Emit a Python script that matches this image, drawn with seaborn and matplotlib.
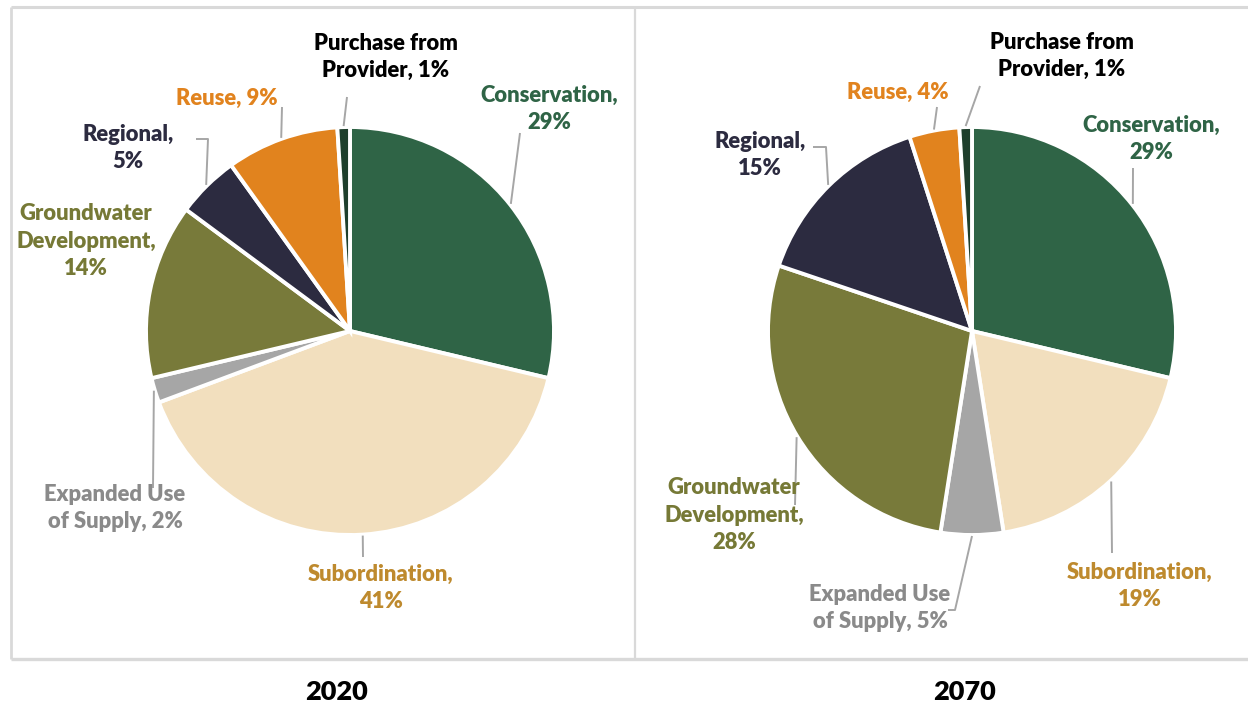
import numpy as np
import matplotlib
matplotlib.use("Agg")
import matplotlib.pyplot as plt
import seaborn as sns

# ---- data -------------------------------------------------------------
categories = ["Conservation", "Subordination", "Expanded Use of Supply",
              "Groundwater Development", "Regional", "Reuse",
              "Purchase from Provider"]
share_2020 = [29, 41, 2, 14, 5, 9, 1]
share_2070 = [29, 19, 5, 28, 15, 4, 1]
years = ["2020", "2070"]

label_text = {
    "Conservation": "Conservation,\n{}%",
    "Subordination": "Subordination,\n{}%",
    "Expanded Use of Supply": "Expanded Use\nof Supply, {}%",
    "Groundwater Development": "Groundwater\nDevelopment,\n{}%",
    "Regional": "Regional,\n{}%",
    "Reuse": "Reuse, {}%",
    "Purchase from Provider": "Purchase from\nProvider, {}%",
}

# ---- styling ----------------------------------------------------------
sns.set_theme(style="white")
plt.rcParams["font.family"] = ["Lato", "DejaVu Sans"]

fill_colors = sns.color_palette(["#2F6446", "#F2DFBE", "#A6A6A6", "#787A3A",
                                 "#2C2B40", "#E1831E", "#1E3F2C"])
text_colors = ["#2F6446", "#BE8A2E", "#8A8A8A", "#767936",
               "#2C2B40", "#E1831E", "#000000"]
leader_color = "#A6A6A6"
frame_color = "#D9D9D9"

W, H = 1248, 706
fig = plt.figure(figsize=(W / 100, H / 100), dpi=100)
ax = fig.add_axes([0, 0, 1, 1])

# pixel-space layout (y grows downward)
panels = [
    dict(center=(350, 331), radius=204, values=share_2020, year_x=337,
         labels={
             "Conservation": dict(pos=(549, 109), path=[(520, 133)]),
             "Subordination": dict(pos=(381, 588), path=[(363, 557)]),
             "Expanded Use of Supply": dict(pos=(115, 508), path=[(153, 488)]),
             "Groundwater Development": dict(pos=(86, 241), path=None),
             "Regional": dict(pos=(128, 148), path=[(208, 139), (196, 139)]),
             "Reuse": dict(pos=(227, 98), path=[(282, 107)]),
             "Purchase from Provider": dict(pos=(386, 57), path=[(347, 97)]),
         }),
    dict(center=(972, 331), radius=204, values=share_2070, year_x=965,
         labels={
             "Conservation": dict(pos=(1151, 139), path=[(1133, 168)]),
             "Subordination": dict(pos=(1140, 586), path=[(1112, 553)]),
             "Expanded Use of Supply": dict(pos=(880, 608), path=[(955, 610), (948, 610)]),
             "Groundwater Development": dict(pos=(734, 515), path=[(795, 505)]),
             "Regional": dict(pos=(760, 155), path=[(826, 147), (813, 147)]),
             "Reuse": dict(pos=(898, 92), path=[(937, 107)]),
             "Purchase from Provider": dict(pos=(1062, 56), path=[(980, 86)]),
         }),
]

for p in panels:
    cx, cy = p["center"]
    r = p["radius"]
    vals = np.asarray(p["values"], dtype=float)
    # y axis is inverted, so counterclock=True renders clockwise from the top
    ax.pie(vals, colors=fill_colors, startangle=-90, counterclock=True,
           center=(cx, cy), radius=r, frame=True,
           wedgeprops=dict(edgecolor="white", linewidth=2.8))

    frac = vals / vals.sum()
    mids = np.cumsum(frac) - frac / 2
    for i, cat in enumerate(categories):
        spec = p["labels"][cat]
        theta = np.deg2rad(90 - mids[i] * 360)
        if spec["path"]:
            ax_x = cx + (r + 1) * np.cos(theta)
            ax_y = cy - (r + 1) * np.sin(theta)
            xs = [ax_x] + [q[0] for q in spec["path"]]
            ys = [ax_y] + [q[1] for q in spec["path"]]
            ax.plot(xs, ys, color=leader_color, lw=1.4, solid_capstyle="butt",
                    zorder=1)
        ax.text(spec["pos"][0], spec["pos"][1],
                label_text[cat].format(p["values"][i]),
                ha="center", va="center", multialignment="center",
                fontsize=15.8, fontweight="heavy", color=text_colors[i],
                linespacing=1.38, zorder=5)

# panel frames
ax.plot([11, W], [6.5, 6.5], color=frame_color, lw=2.2, solid_capstyle="butt")
ax.plot([11, 11], [6.5, 659], color=frame_color, lw=2.0, solid_capstyle="butt")
ax.plot([635, 635], [6.5, 659], color=frame_color, lw=1.6, solid_capstyle="butt")
ax.plot([11, W], [659, 659], color=frame_color, lw=2.4, solid_capstyle="butt")

for p, yr in zip(panels, years):
    ax.text(p["year_x"], 692, yr, ha="center", va="center",
            fontsize=19.5, fontweight="heavy", color="black")

ax.set_xlim(0, W)
ax.set_ylim(H, 0)
ax.set_aspect("auto")
ax.axis("off")

fig.savefig("out.png", dpi=100, facecolor="white")
